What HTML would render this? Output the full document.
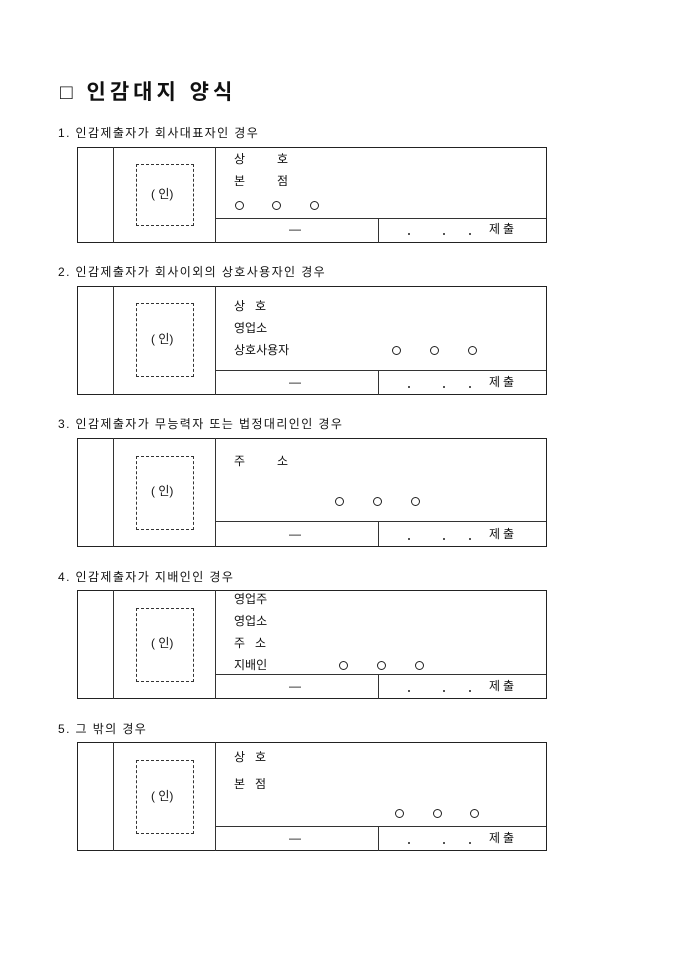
<!DOCTYPE html>
<html><head><meta charset="utf-8"><style>
body{margin:0;width:680px;height:962px;background:#fff;position:relative;font-family:"Liberation Sans","Noto Sans CJK KR","NanumGothic",sans-serif;color:#111}
.a{position:absolute;white-space:nowrap;font-size:12px;line-height:14px}
.h{letter-spacing:1.4px}
.t{position:absolute;border:1px solid #222;border-width:1.5px}
.l{position:absolute;background:#333}
.d{position:absolute;border:1px dashed #333}
.o{position:absolute;width:7px;height:7px;border:1px solid #222;border-radius:50%}
.p{position:absolute;width:2px;height:1.5px;background:#555}
.j{letter-spacing:3px}
</style></head><body>
<div class="a" style="left:60px;top:80px;font-size:21px;line-height:26px;font-weight:bold;letter-spacing:4px">□ 인감대지 양식</div>

<div class="a h" style="left:58px;top:126px">1. 인감제출자가 회사대표자인 경우</div>
<div class="t" style="left:77px;top:147px;width:468px;height:94px"></div>
<div class="l" style="left:113px;top:147px;width:1px;height:96px"></div>
<div class="l" style="left:215px;top:147px;width:1px;height:96px"></div>
<div class="l" style="left:215px;top:218px;width:331px;height:1px"></div>
<div class="l" style="left:378px;top:218px;width:1px;height:25px"></div>
<div class="d" style="left:136px;top:164px;width:56px;height:60px"></div>
<div class="a" style="left:151px;top:187px">( 인)</div>
<div class="a" style="left:234px;top:152px">상</div><div class="a" style="left:277px;top:152px">호</div>
<div class="a" style="left:234px;top:174px">본</div><div class="a" style="left:277px;top:174px">점</div>
<div class="o" style="left:235px;top:201px"></div><div class="o" style="left:272px;top:201px"></div><div class="o" style="left:310px;top:201px"></div>
<div class="a" style="left:289px;top:222px">—</div>
<div class="p" style="left:408px;top:233px"></div><div class="p" style="left:443px;top:233px"></div><div class="p" style="left:469px;top:233px"></div>
<div class="a j" style="left:489px;top:222px">제출</div>

<div class="a h" style="left:58px;top:265px">2. 인감제출자가 회사이외의 상호사용자인 경우</div>
<div class="t" style="left:77px;top:286px;width:468px;height:107px"></div>
<div class="l" style="left:113px;top:286px;width:1px;height:109px"></div>
<div class="l" style="left:215px;top:286px;width:1px;height:109px"></div>
<div class="l" style="left:215px;top:370px;width:331px;height:1px"></div>
<div class="l" style="left:378px;top:370px;width:1px;height:25px"></div>
<div class="d" style="left:136px;top:303px;width:56px;height:72px"></div>
<div class="a" style="left:151px;top:332px">( 인)</div>
<div class="a" style="left:234px;top:299px">상&nbsp;&nbsp;&nbsp;호</div>
<div class="a" style="left:234px;top:321px">영업소</div>
<div class="a" style="left:234px;top:343px">상호사용자</div>
<div class="o" style="left:392px;top:346px"></div><div class="o" style="left:430px;top:346px"></div><div class="o" style="left:468px;top:346px"></div>
<div class="a" style="left:289px;top:375px">—</div>
<div class="p" style="left:408px;top:386px"></div><div class="p" style="left:443px;top:386px"></div><div class="p" style="left:469px;top:386px"></div>
<div class="a j" style="left:489px;top:375px">제출</div>

<div class="a h" style="left:58px;top:417px">3. 인감제출자가 무능력자 또는 법정대리인인 경우</div>
<div class="t" style="left:77px;top:438px;width:468px;height:107px"></div>
<div class="l" style="left:113px;top:438px;width:1px;height:109px"></div>
<div class="l" style="left:215px;top:438px;width:1px;height:109px"></div>
<div class="l" style="left:215px;top:521px;width:331px;height:1px"></div>
<div class="l" style="left:378px;top:521px;width:1px;height:25px"></div>
<div class="d" style="left:136px;top:456px;width:56px;height:72px"></div>
<div class="a" style="left:151px;top:484px">( 인)</div>
<div class="a" style="left:234px;top:454px">주</div><div class="a" style="left:277px;top:454px">소</div>
<div class="o" style="left:335px;top:497px"></div><div class="o" style="left:373px;top:497px"></div><div class="o" style="left:411px;top:497px"></div>
<div class="a" style="left:289px;top:527px">—</div>
<div class="p" style="left:408px;top:538px"></div><div class="p" style="left:443px;top:538px"></div><div class="p" style="left:469px;top:538px"></div>
<div class="a j" style="left:489px;top:527px">제출</div>

<div class="a h" style="left:58px;top:570px">4. 인감제출자가 지배인인 경우</div>
<div class="t" style="left:77px;top:590px;width:468px;height:107px"></div>
<div class="l" style="left:113px;top:590px;width:1px;height:109px"></div>
<div class="l" style="left:215px;top:590px;width:1px;height:109px"></div>
<div class="l" style="left:215px;top:674px;width:331px;height:1px"></div>
<div class="l" style="left:378px;top:674px;width:1px;height:25px"></div>
<div class="d" style="left:136px;top:608px;width:56px;height:72px"></div>
<div class="a" style="left:151px;top:636px">( 인)</div>
<div class="a" style="left:234px;top:592px">영업주</div>
<div class="a" style="left:234px;top:614px">영업소</div>
<div class="a" style="left:234px;top:636px">주&nbsp;&nbsp;&nbsp;소</div>
<div class="a" style="left:234px;top:658px">지배인</div>
<div class="o" style="left:339px;top:661px"></div><div class="o" style="left:377px;top:661px"></div><div class="o" style="left:415px;top:661px"></div>
<div class="a" style="left:289px;top:679px">—</div>
<div class="p" style="left:408px;top:690px"></div><div class="p" style="left:443px;top:690px"></div><div class="p" style="left:469px;top:690px"></div>
<div class="a j" style="left:489px;top:679px">제출</div>

<div class="a h" style="left:58px;top:722px">5. 그 밖의 경우</div>
<div class="t" style="left:77px;top:742px;width:468px;height:107px"></div>
<div class="l" style="left:113px;top:742px;width:1px;height:109px"></div>
<div class="l" style="left:215px;top:742px;width:1px;height:109px"></div>
<div class="l" style="left:215px;top:826px;width:331px;height:1px"></div>
<div class="l" style="left:378px;top:826px;width:1px;height:25px"></div>
<div class="d" style="left:136px;top:760px;width:56px;height:72px"></div>
<div class="a" style="left:151px;top:789px">( 인)</div>
<div class="a" style="left:234px;top:750px">상&nbsp;&nbsp;&nbsp;호</div>
<div class="a" style="left:234px;top:777px">본&nbsp;&nbsp;&nbsp;점</div>
<div class="o" style="left:395px;top:809px"></div><div class="o" style="left:433px;top:809px"></div><div class="o" style="left:470px;top:809px"></div>
<div class="a" style="left:289px;top:831px">—</div>
<div class="p" style="left:408px;top:842px"></div><div class="p" style="left:443px;top:842px"></div><div class="p" style="left:469px;top:842px"></div>
<div class="a j" style="left:489px;top:831px">제출</div>
</body></html>
